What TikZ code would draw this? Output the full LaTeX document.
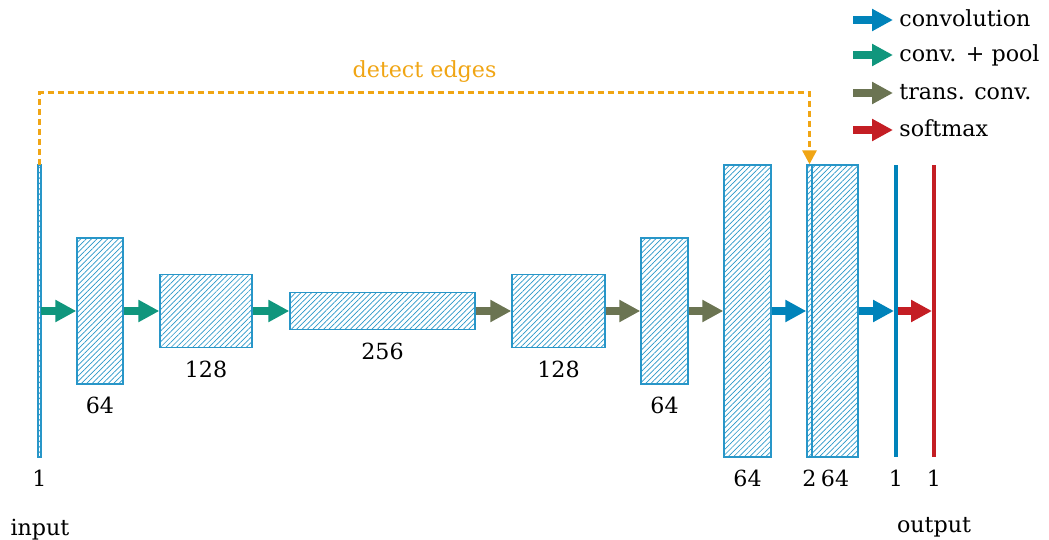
\documentclass[tikz,border=0pt]{standalone}
\usepackage{fontspec}
\setmainfont{DejaVu Serif}
\usetikzlibrary{arrows.meta,patterns.meta}
\definecolor{convblue}{RGB}{0,131,186}
\definecolor{poolgreen}{RGB}{16,150,125}
\definecolor{transolive}{RGB}{107,116,82}
\definecolor{softred}{RGB}{196,30,36}
\definecolor{skiporange}{RGB}{240,165,20}
\definecolor{hatchblue}{RGB}{40,150,200}

\begin{document}
\begin{tikzpicture}[x=0.5pt,y=-0.5pt,
  every node/.style={font=\fontsize{11.1}{13}\selectfont},
  layer/.style={draw=hatchblue, line width=0.7pt, inner sep=0pt,
    pattern={Lines[angle=45,distance=1.9pt,line width=0.35pt]}, pattern color=hatchblue},
  bar/.style={inner sep=0pt, minimum width=1.6pt, minimum height=146pt},
  num/.style={below=6pt, inner sep=0pt},
  flow/.style={line width=4pt, -{Triangle[length=10.5pt,width=10.5pt]}},
  skip/.style={color=skiporange, line width=1.5pt, dash pattern=on 3pt off 2pt,
    -{Triangle[length=7pt,width=7pt]}},
  legend/.style={anchor=west, inner sep=3pt, text height=1.5ex, text depth=0.25ex}]
\useasboundingbox (0,0) rectangle (1049,540);

\foreach \n/\x/\w/\h in {in/39.5/1.5/146, c1/100/23/73, c2/206/46/36.5, c3/382.5/92.5/18.5,
  c4/558.5/46.5/36.5, c5/664.5/23.5/73, c6/747.5/23.5/146, c7/809.5/2.5/146, c8/835/23/146}
  \node[layer, minimum width=\w pt, minimum height=\h pt] (\n) at (\x,311) {};
\node[bar, fill=convblue] (o1) at (896,311) {};
\node[bar, fill=softred] (o2) at (934,311) {};

\foreach \n/\t in {in/1, c1/64, c2/128, c3/256, c4/128, c5/64, c6/64, c7/2, c8/64, o1/1, o2/1}
  \node[num] (\n-num) at (\n.south) {\t};
\node[anchor=base] (inlabel) at (40,535) {input};
\node[anchor=base] (outlabel) at (934,532) {output};

\draw[flow, poolgreen] (in) -- (c1);
\draw[flow, poolgreen] (c1) -- (c2);
\draw[flow, poolgreen] (c2) -- (c3);
\draw[flow, transolive] (c3) -- (c4);
\draw[flow, transolive] (c4) -- (c5);
\draw[flow, transolive] (c5) -- (c6);
\draw[flow, convblue] (c6) -- (c7);
\draw[flow, convblue] (c8) -- (o1);
\draw[flow, softred] (o1) -- (o2);

\draw[skip] (in.north) -- ++(0,-72) -| node[pos=0.25, above=1pt] (skiplabel) {detect edges} (c7.north);

\foreach \n/\y/\c/\t in {l1/20/convblue/convolution, l2/55/poolgreen/conv. + pool,
  l3/93/transolive/trans. conv., l4/130/softred/softmax} {
  \node[legend] (\n) at (893,\y) {\t};
  \coordinate (\n-start) at (853,\y);
  \draw[flow, \c] (\n-start) -- (\n);
}
\end{tikzpicture}
\end{document}
